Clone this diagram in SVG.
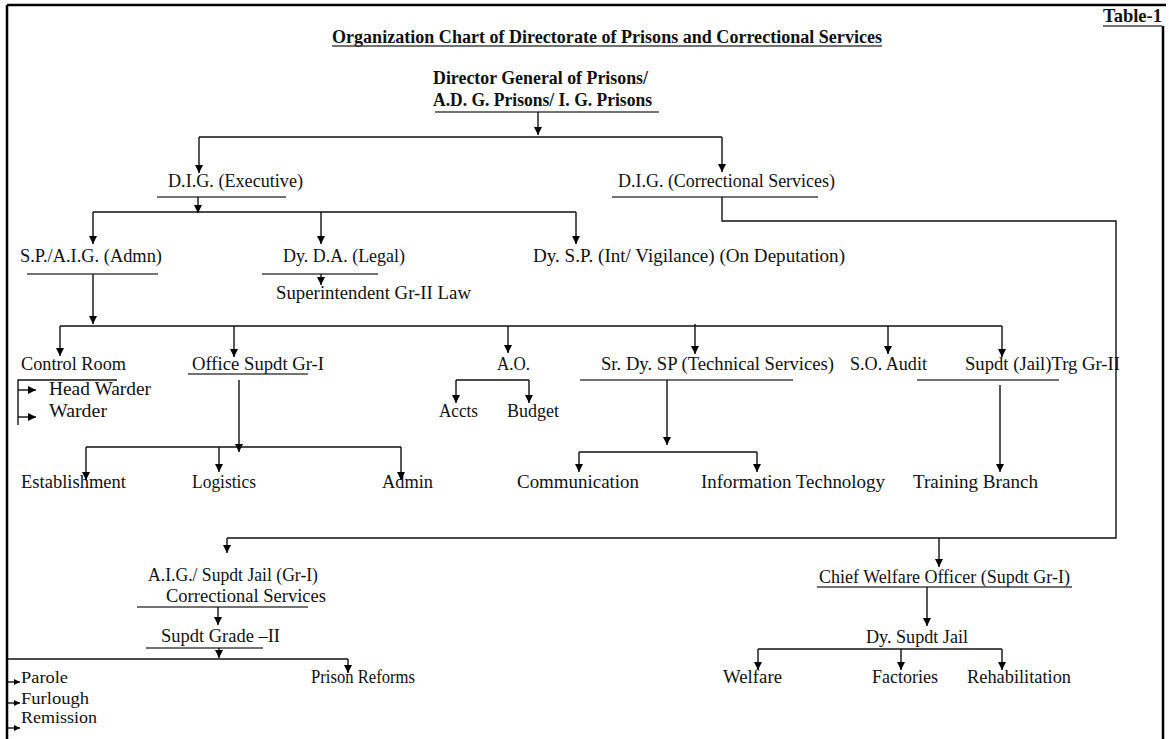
<svg xmlns="http://www.w3.org/2000/svg" width="1172" height="739" viewBox="0 0 1172 739">
<defs>
<style>
text{font-family:"Liberation Serif","Times New Roman",serif;font-size:18px;fill:#111}
.b{font-weight:bold;font-size:18px}
.bl{font-weight:bold;font-size:19px}
.s{font-size:16px}
.ul{stroke:#444;stroke-width:1.3;fill:none}
.c{stroke:#111;stroke-width:1.4;fill:none}
.brd{stroke:#000;stroke-width:2.5;fill:none}
</style>
<marker id="ah" viewBox="0 0 10 10" refX="10" refY="5" markerWidth="9" markerHeight="8" markerUnits="userSpaceOnUse" orient="auto"><path d="M0,0 L10,5 L0,10 z" fill="#000"/></marker>
<marker id="sa" viewBox="0 0 10 10" refX="10" refY="5" markerWidth="6" markerHeight="6" markerUnits="userSpaceOnUse" orient="auto"><path d="M0,0 L10,5 L0,10 z" fill="#000"/></marker>
</defs>
<rect width="1172" height="739" fill="#fff"/>
<g id="border">
<path class="brd" d="M7,5 H1166 M7,5 V739 M1163,26 V739"/>
</g>
<g id="table-label">
<text class="bl" x="1103" y="22" textLength="59" lengthAdjust="spacingAndGlyphs">Table-1</text>
<line class="ul" x1="1103" y1="26" x2="1162" y2="26" stroke="#000"/>
</g>
<g id="title">
<text class="b" x="332" y="43" textLength="550" lengthAdjust="spacingAndGlyphs">Organization Chart of Directorate of Prisons  and  Correctional Services</text>
<line class="ul" x1="332" y1="46" x2="882" y2="46"/>
</g>
<g id="dg">
<text class="bl" x="433" y="84" textLength="215" lengthAdjust="spacingAndGlyphs">Director General of Prisons/</text>
<text class="bl" x="433" y="106" textLength="219" lengthAdjust="spacingAndGlyphs">A.D. G. Prisons/ I. G. Prisons</text>
<line class="ul" x1="435" y1="112" x2="659" y2="112"/>
</g>
<g id="dig-exec">
<text x="168" y="187" textLength="135" lengthAdjust="spacingAndGlyphs">D.I.G. (Executive)</text>
<line class="ul" x1="157" y1="197" x2="286" y2="197"/>
</g>
<g id="dig-corr">
<text x="618" y="187" textLength="217" lengthAdjust="spacingAndGlyphs">D.I.G. (Correctional Services)</text>
<line class="ul" x1="612" y1="197" x2="818" y2="197"/>
</g>
<g id="sp-aig">
<text x="20" y="262" textLength="142" lengthAdjust="spacingAndGlyphs">S.P./A.I.G. (Admn)</text>
<line class="ul" x1="27" y1="274" x2="158" y2="274"/>
</g>
<g id="dy-da">
<text x="283" y="262" textLength="122" lengthAdjust="spacingAndGlyphs">Dy. D.A. (Legal)</text>
<line class="ul" x1="262" y1="274" x2="378" y2="274"/>
</g>
<g id="supt-law">
<text x="276" y="299" textLength="195" lengthAdjust="spacingAndGlyphs">Superintendent Gr-II Law</text>
</g>
<g id="dysp-int">
<text x="533" y="262" textLength="312" lengthAdjust="spacingAndGlyphs">Dy. S.P. (Int/ Vigilance) (On Deputation)</text>
</g>
<g id="control-room">
<text x="21" y="370" textLength="105" lengthAdjust="spacingAndGlyphs">Control Room</text>
</g>
<g id="head-warder">
<text x="49" y="395" textLength="102" lengthAdjust="spacingAndGlyphs">Head Warder</text>
</g>
<g id="warder">
<text x="49" y="417" textLength="58" lengthAdjust="spacingAndGlyphs">Warder</text>
</g>
<g id="office-supdt">
<text x="192" y="370" textLength="132" lengthAdjust="spacingAndGlyphs">Office Supdt Gr-I</text>
<line class="ul" x1="188" y1="374" x2="308" y2="374"/>
</g>
<g id="ao">
<text x="497" y="370" textLength="33" lengthAdjust="spacingAndGlyphs">A.O.</text>
</g>
<g id="accts">
<text x="439" y="417" textLength="39" lengthAdjust="spacingAndGlyphs">Accts</text>
</g>
<g id="budget">
<text x="507" y="417" textLength="52" lengthAdjust="spacingAndGlyphs">Budget</text>
</g>
<g id="sr-dysp">
<text x="601" y="370" textLength="233" lengthAdjust="spacingAndGlyphs">Sr. Dy. SP (Technical Services)</text>
<line class="ul" x1="580" y1="380" x2="793" y2="380"/>
</g>
<g id="so-audit">
<text x="850" y="370" textLength="77" lengthAdjust="spacingAndGlyphs">S.O. Audit</text>
</g>
<g id="supdt-trg">
<text x="965" y="370" textLength="155" lengthAdjust="spacingAndGlyphs">Supdt (Jail)Trg Gr-II</text>
<line class="ul" x1="917" y1="380" x2="1059" y2="380"/>
</g>
<g id="establishment">
<text x="21" y="488" textLength="105" lengthAdjust="spacingAndGlyphs">Establishment</text>
</g>
<g id="logistics">
<text x="192" y="488" textLength="64" lengthAdjust="spacingAndGlyphs">Logistics</text>
</g>
<g id="admin">
<text x="382" y="488" textLength="51" lengthAdjust="spacingAndGlyphs">Admin</text>
</g>
<g id="communication">
<text x="517" y="488" textLength="122" lengthAdjust="spacingAndGlyphs">Communication</text>
</g>
<g id="it">
<text x="701" y="488" textLength="184" lengthAdjust="spacingAndGlyphs">Information Technology</text>
</g>
<g id="training">
<text x="913" y="488" textLength="125" lengthAdjust="spacingAndGlyphs">Training Branch</text>
</g>
<g id="aig-corr">
<text x="148" y="581" textLength="170" lengthAdjust="spacingAndGlyphs">A.I.G./ Supdt Jail (Gr-I)</text>
<text x="166" y="602" textLength="160" lengthAdjust="spacingAndGlyphs">Correctional Services</text>
<line class="ul" x1="137" y1="607" x2="308" y2="607"/>
</g>
<g id="supdt-grade2">
<text x="161" y="642" textLength="119" lengthAdjust="spacingAndGlyphs">Supdt Grade –II</text>
<line class="ul" x1="146" y1="648" x2="263" y2="648"/>
</g>
<g id="prison-reforms">
<text x="311" y="683" textLength="104" lengthAdjust="spacingAndGlyphs">Prison Reforms</text>
</g>
<g id="parole">
<text class="s" x="21" y="683" textLength="47" lengthAdjust="spacingAndGlyphs">Parole</text>
</g>
<g id="furlough">
<text class="s" x="21" y="704" textLength="68" lengthAdjust="spacingAndGlyphs">Furlough</text>
</g>
<g id="remission">
<text class="s" x="21" y="723" textLength="76" lengthAdjust="spacingAndGlyphs">Remission</text>
</g>
<g id="chief-welfare">
<text x="819" y="583" textLength="251" lengthAdjust="spacingAndGlyphs">Chief Welfare Officer (Supdt Gr-I)</text>
<line class="ul" x1="817" y1="587" x2="1072" y2="587"/>
</g>
<g id="dy-supdt-jail">
<text x="866" y="643" textLength="102" lengthAdjust="spacingAndGlyphs">Dy. Supdt Jail</text>
</g>
<g id="welfare">
<text x="723" y="683" textLength="59" lengthAdjust="spacingAndGlyphs">Welfare</text>
</g>
<g id="factories">
<text x="872" y="683" textLength="66" lengthAdjust="spacingAndGlyphs">Factories</text>
</g>
<g id="rehab">
<text x="967" y="683" textLength="104" lengthAdjust="spacingAndGlyphs">Rehabilitation</text>
</g>
<g id="connectors">
<path class="c" d="M538,112 V135" marker-end="url(#ah)"/>
<path class="c" d="M199,137 H722"/>
<path class="c" d="M199,137 V173" marker-end="url(#ah)"/>
<path class="c" d="M722,137 V172" marker-end="url(#ah)"/>
<path class="c" d="M198,197 V213" marker-end="url(#ah)"/>
<path class="c" d="M93,212 H576"/>
<path class="c" d="M93,212 V244" marker-end="url(#ah)"/>
<path class="c" d="M321,212 V244" marker-end="url(#ah)"/>
<path class="c" d="M576,212 V244" marker-end="url(#ah)"/>
<path class="c" d="M321,274 V285" marker-end="url(#ah)"/>
<path class="c" d="M93,274 V324" marker-end="url(#ah)"/>
<path class="c" d="M60,326 H1002"/>
<path class="c" d="M60,326 V356" marker-end="url(#ah)"/>
<path class="c" d="M234,326 V357" marker-end="url(#ah)"/>
<path class="c" d="M508,326 V353" marker-end="url(#ah)"/>
<path class="c" d="M695,324 V354" marker-end="url(#ah)"/>
<path class="c" d="M888,326 V354" marker-end="url(#ah)"/>
<path class="c" d="M1002,326 V357" marker-end="url(#ah)"/>
<path class="c" d="M117,380 H18 V425"/>
<path class="c" d="M18,390 H36" marker-end="url(#ah)"/>
<path class="c" d="M18,417 H36" marker-end="url(#ah)"/>
<path class="c" d="M239,380 V452" marker-end="url(#ah)"/>
<path class="c" d="M86,447 H401"/>
<path class="c" d="M86,447 V480" marker-end="url(#ah)"/>
<path class="c" d="M219,447 V472" marker-end="url(#ah)"/>
<path class="c" d="M401,447 V480" marker-end="url(#ah)"/>
<path class="c" d="M456,380 H529"/>
<path class="c" d="M456,380 V403" marker-end="url(#ah)"/>
<path class="c" d="M529,380 V403" marker-end="url(#ah)"/>
<path class="c" d="M667,380 V445" marker-end="url(#ah)"/>
<path class="c" d="M579,452 H757"/>
<path class="c" d="M579,452 V472" marker-end="url(#ah)"/>
<path class="c" d="M757,452 V472" marker-end="url(#ah)"/>
<path class="c" d="M1000,385 V472" marker-end="url(#ah)"/>
<path class="c" d="M722,197 V221 H1116 V538 H227"/>
<path class="c" d="M227,538 V553" marker-end="url(#ah)"/>
<path class="c" d="M939,538 V567" marker-end="url(#ah)"/>
<path class="c" d="M218,607 V625" marker-end="url(#ah)"/>
<path class="c" d="M219,648 V658" marker-end="url(#ah)"/>
<path class="c" d="M8,659 H348"/>
<path class="c" d="M348,659 V673" marker-end="url(#ah)"/>
<path class="c" d="M8,682 H20" marker-end="url(#sa)"/>
<path class="c" d="M8,703 H20" marker-end="url(#sa)"/>
<path class="c" d="M8,728 H20" marker-end="url(#sa)"/>
<path class="c" d="M927,587 V626" marker-end="url(#ah)"/>
<path class="c" d="M758,649 H1002"/>
<path class="c" d="M758,649 V670" marker-end="url(#ah)"/>
<path class="c" d="M901,649 V670" marker-end="url(#ah)"/>
<path class="c" d="M1002,649 V670" marker-end="url(#ah)"/>
</g>
</svg>
